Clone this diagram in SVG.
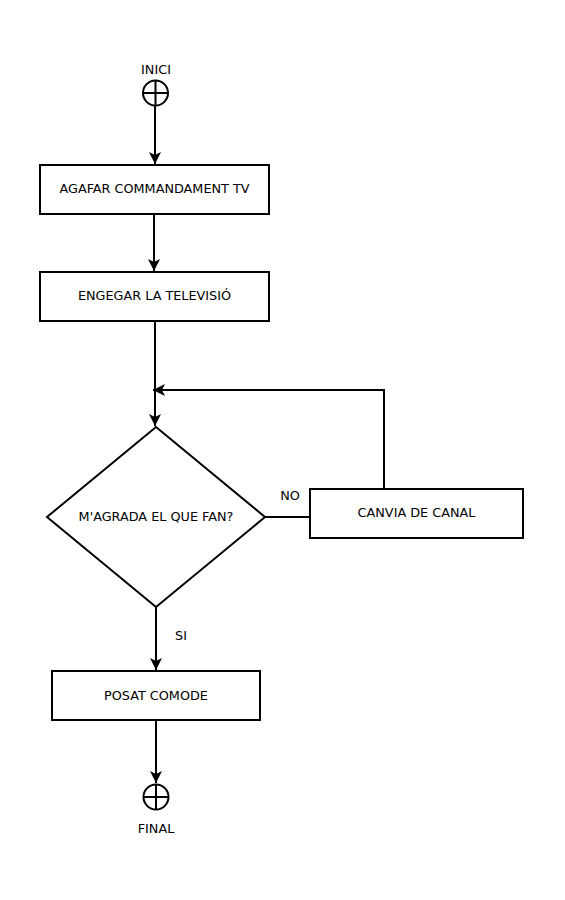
<svg xmlns="http://www.w3.org/2000/svg" width="565" height="900" viewBox="0 0 565 900">
<style>
.box{fill:#fff;stroke:#000;stroke-width:2}
.ln{fill:none;stroke:#000;stroke-width:2}
.t{font-family:"DejaVu Sans",sans-serif;font-size:12.8px;fill:#000;text-anchor:middle}
.term{fill:#fff;stroke:#000;stroke-width:2}
</style>
<defs>
<marker id="ah" markerUnits="userSpaceOnUse" markerWidth="14" markerHeight="14" viewBox="0 0 14 14" refX="13" refY="7" orient="auto">
<path d="M1,1 L13,7 L1,13 L4,7 z" fill="#000"/>
</marker>
</defs>
<rect width="565" height="900" fill="#fff"/>
<g id="connectors">
<path class="ln" d="M155,106 V164" marker-end="url(#ah)"/>
<path class="ln" d="M154,214 V271" marker-end="url(#ah)"/>
<path class="ln" d="M155,321 V426" marker-end="url(#ah)"/>
<path class="ln" d="M265,517 H310"/>
<path class="ln" d="M384,489 V390 H153" marker-end="url(#ah)"/>
<path class="ln" d="M156,607 V670" marker-end="url(#ah)"/>
<path class="ln" d="M156,720 V783" marker-end="url(#ah)"/>
<text class="t" x="290" y="500">NO</text>
<text class="t" x="181" y="640">SI</text>
</g>
<g id="inici">
<circle class="term" cx="155.5" cy="93" r="12.5"/>
<path class="ln" d="M143,93 H168 M155.5,80.5 V105.5"/>
<text class="t" x="156" y="74">INICI</text>
</g>
<g id="agafar">
<rect class="box" x="40" y="165" width="229" height="49"/>
<text class="t" x="154.5" y="193">AGAFAR COMMANDAMENT TV</text>
</g>
<g id="engegar">
<rect class="box" x="40" y="272" width="229" height="49"/>
<text class="t" x="154.5" y="300">ENGEGAR LA TELEVISIÓ</text>
</g>
<g id="decisio">
<path class="box" d="M156,427 L265,517 L156,607 L47,517 Z"/>
<text class="t" x="156" y="521">M'AGRADA EL QUE FAN?</text>
</g>
<g id="canvia">
<rect class="box" x="310" y="489" width="213" height="49"/>
<text class="t" x="416.5" y="517">CANVIA DE CANAL</text>
</g>
<g id="posat">
<rect class="box" x="52" y="671" width="208" height="49"/>
<text class="t" x="156" y="700">POSAT COMODE</text>
</g>
<g id="final">
<circle class="term" cx="156" cy="797" r="12.5"/>
<path class="ln" d="M143.5,797 H168.5 M156,784.5 V809.5"/>
<text class="t" x="156" y="833">FINAL</text>
</g>
</svg>
